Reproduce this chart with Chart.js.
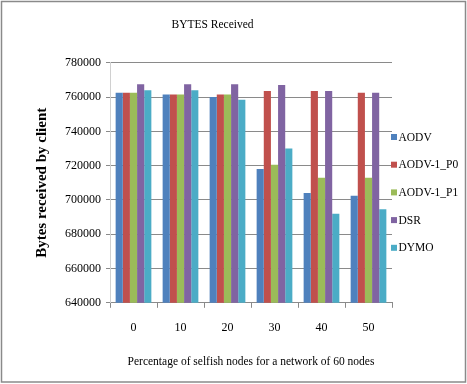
<!DOCTYPE html>
<html>
<head>
<meta charset="utf-8">
<script src="https://cdn.jsdelivr.net/npm/chart.js@4/dist/chart.umd.min.js"></script>
<style>
html,body{margin:0;padding:0;background:#fff;}
#wrap{width:467px;height:384px;position:relative;}
</style>
</head>
<body>
<div id="wrap"><canvas id="c" width="467" height="384"></canvas></div>
<script>
const categories = ["0", "10", "20", "30", "40", "50"];
const seriesNames = ["AODV", "AODV-1_P0", "AODV-1_P1", "DSR", "DYMO"];
const aodv   = [762500, 761500, 760000, 718000, 704000, 702500];
const aodvP0 = [762500, 761500, 761500, 763500, 763500, 762500];
const aodvP1 = [762500, 761500, 761500, 720500, 713000, 713000];
const dsr    = [767500, 767500, 767500, 767000, 763500, 762500];
const dymo   = [764000, 764000, 758500, 730000, 692000, 694500];
const yMin = 640000, yMax = 780000, yStep = 20000;
const colors = ["#4F81BD", "#C0504D", "#9BBB59", "#8064A2", "#4BACC6"];
const seriesValues = [aodv, aodvP0, aodvP1, dsr, dymo];

const serif = "'Liberation Serif', 'Times New Roman', serif";

const customLegend = {
  id: 'customLegend',
  beforeDraw(chart) {
    const ctx = chart.ctx;
    ctx.save();
    ctx.fillStyle = '#fff';
    ctx.fillRect(0, 0, chart.width, chart.height);
    ctx.strokeStyle = '#8a8a8a';
    ctx.lineWidth = 1.5;
    ctx.strokeRect(1.5, 1.5, chart.width - 3, chart.height - 3.5);
    ctx.restore();
  },
  afterDraw(chart) {
    const ctx = chart.ctx;
    const x0 = chart.chartArea.right - 1;
    const yStart = 137, gap = 27.7;
    ctx.save();
    ctx.font = "11.5px " + serif;
    ctx.textBaseline = 'middle';
    ctx.textAlign = 'left';
    chart.data.datasets.forEach((ds, i) => {
      const y = yStart + i * gap;
      ctx.fillStyle = ds.backgroundColor;
      ctx.fillRect(x0, y - 3, 6, 6);
      ctx.fillStyle = '#000';
      ctx.fillText(ds.label, x0 + 7.5, y + 0.5);
    });
    ctx.restore();
  }
};

new Chart(document.getElementById('c'), {
  type: 'bar',
  data: {
    labels: categories,
    datasets: seriesNames.map((n, i) => ({
      label: n,
      data: seriesValues[i],
      backgroundColor: colors[i],
      borderWidth: 0,
      categoryPercentage: 0.76,
      barPercentage: 1.0
    }))
  },
  options: {
    responsive: false,
    animation: false,
    devicePixelRatio: 1,
    layout: { padding: { left: 33, right: 75, top: 0, bottom: 11 } },
    plugins: {
      legend: { display: false },
      tooltip: { enabled: false },
      title: {
        display: true,
        text: 'BYTES Received',
        color: '#000',
        font: { family: serif, size: 11.5, weight: 'normal' },
        padding: { top: 18, bottom: 31 }
      }
    },
    scales: {
      x: {
        offset: true,
        grid: { offset: true, drawOnChartArea: false, drawTicks: true, tickLength: 5, color: '#8a8a8a' },
        border: { display: true, color: '#8a8a8a' },
        ticks: { color: '#000', font: { family: serif, size: 12 }, padding: 13 },
        title: {
          display: true,
          text: 'Percentage of selfish nodes for a network of 60 nodes',
          color: '#000',
          font: { family: serif, size: 11.5 },
          padding: { top: 7, bottom: 4 }
        }
      },
      y: {
        min: yMin, max: yMax,
        ticks: { stepSize: yStep, color: '#000', font: { family: serif, size: 12 }, padding: 5,
                 callback: (v) => String(v) },
        grid: { color: '#8a8a8a', tickLength: 4, drawTicks: true },
        border: { display: true, color: '#d0d0d0' },
        title: {
          display: true,
          text: 'Bytes received by client',
          color: '#000',
          font: { family: serif, size: 15, weight: 'bold' },
          padding: { top: 0, bottom: 9 }
        }
      }
    }
  },
  plugins: [customLegend]
});
</script>
</body>
</html>
